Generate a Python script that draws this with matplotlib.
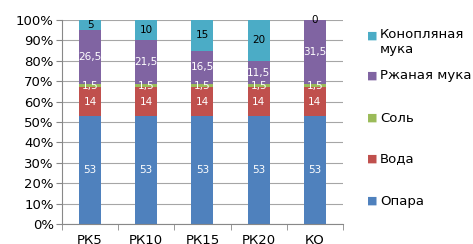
import matplotlib.pyplot as plt
from matplotlib.ticker import MultipleLocator, FuncFormatter

# categories and series (percent of total)
categories = ["РК5", "РК10", "РК15", "РК20", "КО"]
opara = [53, 53, 53, 53, 53]
voda = [14, 14, 14, 14, 14]
sol = [1.5, 1.5, 1.5, 1.5, 1.5]
rye = [26.5, 21.5, 16.5, 11.5, 31.5]
hemp = [5, 10, 15, 20, 0]

series = [
    ("Опара", opara, "#4F81BD", "white"),
    ("Вода", voda, "#C0504D", "white"),
    ("Соль", sol, "#9BBB59", "white"),
    ("Ржаная мука", rye, "#8064A2", "white"),
    ("Конопляная\nмука", hemp, "#4BACC6", "black"),
]

fig = plt.figure(figsize=(4.73, 2.44), dpi=100)
ax = fig.add_axes([0.131, 0.082, 0.594, 0.836])

x = list(range(len(categories)))
bottom = [0] * len(categories)
for name, vals, color, tcolor in series:
    ax.bar(x, vals, width=0.39, bottom=bottom, color=color, zorder=2)
    for i, v in enumerate(vals):
        label = f"{v:g}".replace(".", ",")
        ax.text(x[i], bottom[i] + v / 2, label, ha="center", va="center",
                fontsize=7.5, color=tcolor, zorder=3)
    bottom = [b + v for b, v in zip(bottom, vals)]

ax.set_xlim(-0.5, len(categories) - 0.5)
ax.set_ylim(0, 100)
ax.yaxis.set_major_locator(MultipleLocator(10))
ax.yaxis.set_major_formatter(FuncFormatter(lambda v, p: f"{v:.0f}%"))
ax.grid(axis="y", color="#a6a6a6", linewidth=0.8, zorder=0)

ax.set_xticks(x)
ax.set_xticklabels(categories)
ax.set_xticks([i + 0.5 for i in range(-1, len(categories))], minor=True)
ax.tick_params(axis="x", which="major", length=0, labelsize=9.5, pad=7)
ax.tick_params(axis="x", which="minor", length=4, color="#888888")
ax.tick_params(axis="y", length=4, color="#888888", labelsize=9.5, pad=2)

for s in ["top", "right"]:
    ax.spines[s].set_visible(False)
for s in ["left", "bottom"]:
    ax.spines[s].set_color("#888888")

# legend drawn by hand, Excel-style evenly spread entries (pixel rows)
legend_rows = [201, 159, 118, 76, 35.5]
H = 244.0
for (name, _, color, _), row in zip(series, legend_rows):
    yf = 1 - row / H
    fig.text(372 / 473, yf, "\u25a0", color=color, fontsize=8,
             ha="center", va="center")
    fig.text(380 / 473, yf, name, fontsize=9.5, ha="left",
             va="top" if "\n" in name else "center",
             linespacing=1.15)
    if "\n" in name:
        fig.texts[-1].set_y(yf + 7.5 / H)

fig.savefig("out.png", dpi=100)
